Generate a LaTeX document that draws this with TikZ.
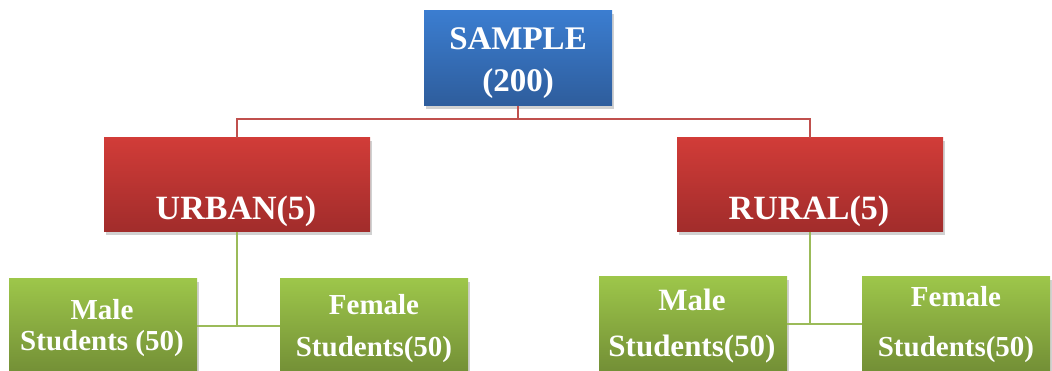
\documentclass[tikz,border=0pt]{standalone}
\usepackage{fontspec}
\setmainfont{Liberation Serif}
\usetikzlibrary{shadows}

\definecolor{bluetop}{HTML}{3B7DD0}
\definecolor{bluebot}{HTML}{2E5D9C}
\definecolor{redtop}{HTML}{D13C38}
\definecolor{redbot}{HTML}{A12C2B}
\definecolor{greentop}{HTML}{9DC64A}
\definecolor{greenbot}{HTML}{738F36}
\definecolor{redline}{HTML}{C0504D}
\definecolor{greenline}{HTML}{9BBB59}

\begin{document}
\begin{tikzpicture}[
x=1pt, y=1pt,
box/.style={rectangle, inner sep=0pt, minimum width=188pt,
  drop shadow={shadow xshift=2pt, shadow yshift=-3pt, opacity=0.3, fill=black!60}},
topbox/.style={box, minimum height=95pt, top color=bluetop, bottom color=bluebot},
midbox/.style={box, minimum width=266pt, minimum height=94pt, top color=redtop, bottom color=redbot},
leafbox/.style={box, minimum height=94pt, top color=greentop, bottom color=greenbot},
txt/.style={anchor=base, inner sep=0pt, text=white, font=\bfseries},
redlink/.style={draw=redline, line width=2.2pt},
greenlink/.style={draw=greenline, line width=2.8pt}
]
\useasboundingbox (0,0) rectangle (1052,371);
\clip (0,0) rectangle (1052,371);

% boxes
\node[topbox] (sample) at (518,312.5) {};
\node[midbox] (urban) at (237,186) {};
\node[midbox] (rural) at (810,186) {};
\node[leafbox] (maleu) at (103,45) {};
\node[leafbox] (femaleu) at (374,45) {};
\node[leafbox] (maler) at (693,47) {};
\node[leafbox] (femaler) at (956,47) {};

% connectors
\coordinate (split) at ([yshift=-13pt]sample.south);
\draw[redlink] (sample.south) -- (split);
\draw[redlink] (urban.north) |- (split) -| (rural.north);
\coordinate (uj) at (urban.south |- maleu.east);
\coordinate (rj) at (rural.south |- maler.east);
\draw[greenlink] (urban.south) -- (uj);
\draw[greenlink] (maleu.east) -- (femaleu.west);
\draw[greenlink] (rural.south) -- (rj);
\draw[greenlink] (maler.east) -- (femaler.west);

% labels
\node[txt, font=\bfseries\fontsize{33}{40}\selectfont] (sample-a) at (518,321) {SAMPLE};
\node[txt, font=\bfseries\fontsize{33}{40}\selectfont] (sample-b) at (518,279) {(200)};
\node[txt, font=\bfseries\fontsize{34}{40}\selectfont] (urban-a) at (236,151) {URBAN(5)};
\node[txt, font=\bfseries\fontsize{34}{40}\selectfont] (rural-a) at (809,151) {RURAL(5)};
\node[txt, font=\bfseries\fontsize{29}{34}\selectfont] (maleu-a) at (102,51) {Male};
\node[txt, font=\bfseries\fontsize{29}{34}\selectfont] (maleu-b) at (102,20) {Students (50)};
\node[txt, font=\bfseries\fontsize{29}{34}\selectfont] (femaleu-a) at (374,56) {Female};
\node[txt, font=\bfseries\fontsize{29}{34}\selectfont] (femaleu-b) at (374,14) {Students(50)};
\node[txt, font=\bfseries\fontsize{31}{36}\selectfont] (maler-a) at (692,60) {Male};
\node[txt, font=\bfseries\fontsize{31}{36}\selectfont] (maler-b) at (692,14) {Students(50)};
\node[txt, font=\bfseries\fontsize{29}{34}\selectfont] (femaler-a) at (956,64) {Female};
\node[txt, font=\bfseries\fontsize{29}{34}\selectfont] (femaler-b) at (956,14) {Students(50)};
\end{tikzpicture}
\end{document}
